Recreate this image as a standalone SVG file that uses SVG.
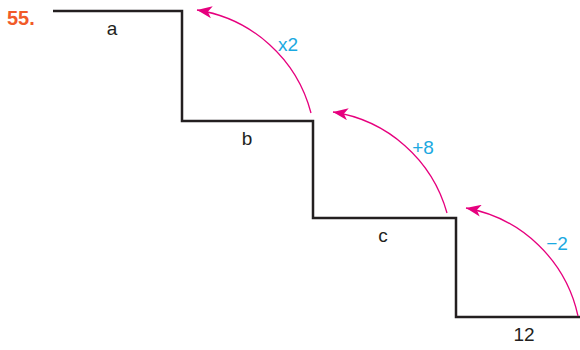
<svg xmlns="http://www.w3.org/2000/svg" width="580" height="350" viewBox="0 0 580 350">
<defs>
<marker id="ah" markerWidth="16" markerHeight="12" refX="15" refY="6" orient="auto" markerUnits="userSpaceOnUse">
<path d="M0,0 L15,6 L0,12 L4,6 Z" fill="#E6007E"/>
</marker>
<style>
.stair{fill:none;stroke:#231F20;stroke-width:2.5;stroke-linejoin:miter}
.arc{fill:none;stroke:#E6007E;stroke-width:1.3;marker-end:url(#ah)}
.lbl{font-family:"Liberation Sans",Arial,sans-serif;font-size:19px;fill:#231F20;text-anchor:middle}
.op{font-family:"Liberation Sans",Arial,sans-serif;font-size:19px;fill:#1BA9E1;text-anchor:middle}
.num{font-family:"Liberation Sans",Arial,sans-serif;font-size:20px;font-weight:bold;fill:#F15A29}
</style>
</defs>
<rect width="580" height="350" fill="#fff"/>
<text class="num" x="7" y="25">55.</text>
<g id="stairs">
<path class="stair" d="M53,11 H182 V121 H313 V218 H456 V317 H582"/>
</g>
<g id="node-a"><text class="lbl" x="112" y="35">a</text></g>
<g id="node-b"><text class="lbl" x="247" y="145">b</text></g>
<g id="node-c"><text class="lbl" x="383" y="242">c</text></g>
<g id="node-12"><text class="lbl" x="524" y="341">12</text></g>
<g id="connectors">
<path class="arc" d="M311,113 A140,140 0 0 0 197,10"/>
<path class="arc" d="M447,213 A140,140 0 0 0 333,112"/>
<path class="arc" d="M578,316 A140,140 0 0 0 466,208"/>
</g>
<g id="labels">
<text class="op" x="288" y="51">x2</text>
<text class="op" x="423" y="154">+8</text>
<text class="op" x="557" y="250">−2</text>
</g>
</svg>
